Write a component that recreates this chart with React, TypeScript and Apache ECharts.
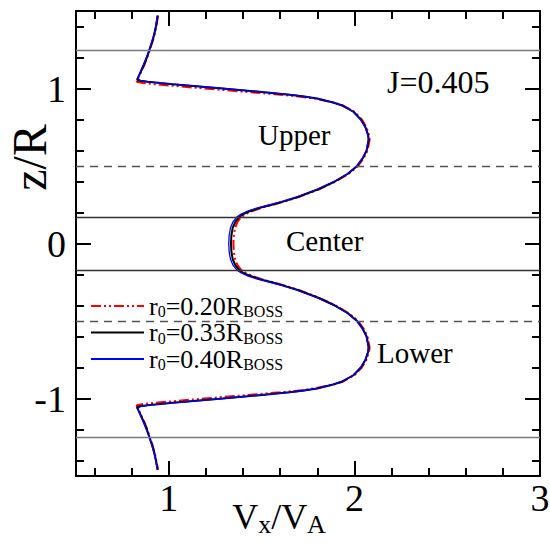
import React, { useEffect, useRef } from "react";
import * as echarts from "echarts";

const FONT = '"Liberation Serif", "Times New Roman", Times, serif';

const seriesNames = ["r0=0.20RBOSS", "r0=0.33RBOSS", "r0=0.40RBOSS"];
const legendParts = ["0.20", "0.33", "0.40"];

const zVals = [
  1.47, 1.4, 1.35, 1.3, 1.25, 1.2, 1.15, 1.1, 1.07, 1.058, 1.05, 1.043, 1.035, 1.028, 1.02, 1.0, 0.98, 0.96, 0.95, 0.935,
  0.91, 0.89, 0.85, 0.8, 0.75, 0.7, 0.67, 0.6, 0.55, 0.5, 0.45, 0.4, 0.35, 0.3, 0.27, 0.25, 0.23, 0.21, 0.19, 0.17,
  0.14, 0.1, 0.05, 0.0,
  -0.05, -0.1, -0.14, -0.17, -0.19, -0.21, -0.23, -0.25, -0.27, -0.3, -0.35, -0.4, -0.45, -0.5, -0.55, -0.6, -0.67,
  -0.7, -0.75, -0.8, -0.85, -0.89, -0.91, -0.935, -0.95, -0.96, -0.98, -1.0, -1.02, -1.028, -1.035, -1.043, -1.05,
  -1.058, -1.07, -1.1, -1.15, -1.2, -1.25, -1.3, -1.35, -1.4, -1.46,
];

const vxRed = [
  0.942, 0.933, 0.924, 0.912, 0.898, 0.884, 0.867, 0.848, 0.836, 0.831, 0.827, 0.828, 0.86, 0.924, 1.0, 1.19, 1.4, 1.6, 1.69, 1.785,
  1.888, 1.94, 2.0, 2.04, 2.065, 2.079, 2.082, 2.071, 2.05, 2.02, 1.97, 1.9, 1.81, 1.7, 1.622, 1.562, 1.5, 1.452, 1.415, 1.39,
  1.37, 1.357, 1.35, 1.348,
  1.35, 1.357, 1.37, 1.39, 1.415, 1.452, 1.5, 1.562, 1.622, 1.7, 1.81, 1.9, 1.97, 2.02, 2.05, 2.071, 2.082,
  2.079, 2.065, 2.04, 2.0, 1.94, 1.888, 1.785, 1.69, 1.6, 1.4, 1.19, 1.0, 0.924, 0.86, 0.828, 0.827,
  0.831, 0.836, 0.848, 0.867, 0.884, 0.898, 0.912, 0.924, 0.933, 0.942,
];

const vxBlack = [
  0.94, 0.931, 0.922, 0.91, 0.896, 0.882, 0.865, 0.846, 0.834, 0.829, 0.842, 0.885, 0.955, 1.02, 1.1, 1.29, 1.475, 1.65, 1.72, 1.8,
  1.885, 1.935, 1.995, 2.035, 2.06, 2.074, 2.077, 2.066, 2.045, 2.015, 1.965, 1.895, 1.805, 1.695, 1.615, 1.555, 1.49, 1.44, 1.402, 1.378,
  1.358, 1.344, 1.337, 1.335,
  1.337, 1.344, 1.358, 1.378, 1.402, 1.44, 1.49, 1.555, 1.615, 1.695, 1.805, 1.895, 1.965, 2.015, 2.045, 2.066, 2.077,
  2.074, 2.06, 2.035, 1.995, 1.935, 1.885, 1.8, 1.72, 1.65, 1.475, 1.29, 1.1, 1.02, 0.955, 0.885, 0.842,
  0.829, 0.834, 0.846, 0.865, 0.882, 0.896, 0.91, 0.922, 0.931, 0.94,
];

const vxBlue = [
  0.938, 0.929, 0.92, 0.908, 0.894, 0.879, 0.862, 0.844, 0.834, 0.838, 0.856, 0.895, 0.962, 1.028, 1.105, 1.295, 1.48, 1.655, 1.722, 1.8,
  1.884, 1.933, 1.993, 2.033, 2.058, 2.072, 2.075, 2.064, 2.043, 2.012, 1.962, 1.89, 1.8, 1.688, 1.606, 1.545, 1.478, 1.428, 1.39, 1.366,
  1.346, 1.332, 1.325, 1.323,
  1.325, 1.332, 1.346, 1.366, 1.39, 1.428, 1.478, 1.545, 1.606, 1.688, 1.8, 1.89, 1.962, 2.012, 2.043, 2.064, 2.075,
  2.072, 2.058, 2.033, 1.993, 1.933, 1.884, 1.8, 1.722, 1.655, 1.48, 1.295, 1.105, 1.028, 0.962, 0.895, 0.856,
  0.838, 0.834, 0.844, 0.862, 0.879, 0.894, 0.908, 0.92, 0.929, 0.938,
];

const regionLinesSolidOuter = [1.25, -1.25];
const regionLinesSolidInner = [0.175, -0.175];
const regionLinesDashed = [0.5, -0.5];

const regionLabels = [
  { text: "Upper", x: 258, y: 135 },
  { text: "Center", x: 286, y: 241 },
  { text: "Lower", x: 377, y: 353 },
];
const paramLabel = { text: "J=0.405", x: 387, y: 82 };

function toPairs(vx: number[]) {
  return zVals.map((z, i) => [vx[i], z]);
}

export default function App() {
  const ref = useRef<HTMLDivElement>(null);
  useEffect(() => {
    document.body.style.margin = "0";
    if (!ref.current) return;
    const chart = echarts.init(ref.current, undefined, { renderer: "svg" });

    const axisCommon = {
      type: "value" as const,
      splitNumber: 3,
      axisLine: { show: true, onZero: false, lineStyle: { color: "#000", width: 2 } },
      axisTick: { show: true, inside: true, length: 15, lineStyle: { color: "#000", width: 2 } },
      minorTick: { show: true, splitNumber: 5, length: 8, lineStyle: { color: "#000", width: 2 } },
      splitLine: { show: false },
      minorSplitLine: { show: false },
    };

    const intLabel = (v: number) => (Math.abs(v - Math.round(v)) < 1e-9 ? String(Math.round(v)) : "");

    const markData: any[] = [];
    regionLinesSolidOuter.forEach((v) =>
      markData.push({ yAxis: v, lineStyle: { color: "#7a7a7a", width: 1.3, type: "solid" } })
    );
    regionLinesSolidInner.forEach((v) =>
      markData.push({ yAxis: v, lineStyle: { color: "#333", width: 1.3, type: "solid" } })
    );
    regionLinesDashed.forEach((v) =>
      markData.push({ yAxis: v, lineStyle: { color: "#555", width: 1.3, type: [8, 6] } })
    );

    const option: any = {
      animation: false,
      backgroundColor: "#fff",
      grid: { left: 76, right: 10, top: 11, bottom: 72, containLabel: false, outerBoundsMode: "none" },
      xAxis: [
        {
          ...axisCommon,
          min: 0.5,
          max: 3,
          position: "bottom",
          axisLabel: {
            fontSize: 38,
            fontFamily: FONT,
            color: "#000",
            margin: 3,
            formatter: intLabel,
          },
          name: "{m|V}{s|x}{m|/V}{s|A}",
          nameLocation: "middle",
          nameGap: 21,
          nameMoveOverlap: false,
          nameTextStyle: {
            fontFamily: FONT,
            color: "#000",
            padding: [0, 58, 0, 0],
            rich: {
              m: { fontSize: 36, fontFamily: FONT, color: "#000", lineHeight: 40 },
              s: { fontSize: 26, fontFamily: FONT, color: "#000", lineHeight: 8, verticalAlign: "bottom" },
            },
          },
        },
        {
          ...axisCommon,
          min: 0.5,
          max: 3,
          position: "top",
          axisLabel: { show: false },
        },
      ],
      yAxis: [
        {
          ...axisCommon,
          min: -1.5,
          max: 1.5,
          position: "left",
          axisLabel: {
            fontSize: 38,
            fontFamily: FONT,
            color: "#000",
            margin: 10,
            formatter: intLabel,
          },
          name: "z/R",
          nameLocation: "middle",
          nameGap: 23,
          nameMoveOverlap: false,
          nameTextStyle: {
            fontSize: 48,
            fontFamily: FONT,
            color: "#000",
            padding: [0, 0, 0, 172],
          },
        },
        {
          ...axisCommon,
          min: -1.5,
          max: 1.5,
          position: "right",
          axisLabel: { show: false },
        },
      ],
      legend: {
        show: true,
        orient: "vertical",
        left: 90,
        top: 293,
        padding: 0,
        itemGap: 0,
        itemWidth: 53,
        itemHeight: 14,
        data: seriesNames,
        itemStyle: { opacity: 0, borderWidth: 0 },
        formatter: (name: string) => {
          const idx = seriesNames.indexOf(name);
          return `{m|r}{s|0}{m|=${legendParts[idx]}R}{s|BOSS}`;
        },
        textStyle: {
          fontFamily: FONT,
          color: "#000",
          rich: {
            m: { fontSize: 26, fontFamily: FONT, color: "#000", lineHeight: 27 },
            s: { fontSize: 16, fontFamily: FONT, color: "#000", lineHeight: 13, verticalAlign: "bottom" },
          },
        },
      },
      series: [
        {
          name: "refs",
          type: "line",
          data: [],
          silent: true,
          markLine: {
            silent: true,
            symbol: ["none", "none"],
            label: { show: false },
            data: markData,
          },
          z: 1,
        },
        {
          name: seriesNames[0],
          type: "line",
          data: toPairs(vxRed),
          symbol: "none",
          lineStyle: { color: "#ff0000", width: 2, type: [10, 3, 2, 3, 2, 3] },
          itemStyle: { color: "#ff0000" },
          z: 2,
        },
        {
          name: seriesNames[1],
          type: "line",
          data: toPairs(vxBlack),
          symbol: "none",
          lineStyle: { color: "#000", width: 2 },
          itemStyle: { color: "#000" },
          z: 3,
        },
        {
          name: seriesNames[2],
          type: "line",
          data: toPairs(vxBlue),
          symbol: "none",
          lineStyle: { color: "#0000ff", width: 1.3 },
          itemStyle: { color: "#0000ff" },
          z: 4,
        },
      ],
      graphic: [
        ...regionLabels.map((l) => ({
          type: "text",
          x: l.x,
          y: l.y,
          silent: true,
          style: { text: l.text, fontSize: 29, fontFamily: FONT, fill: "#000", align: "left", verticalAlign: "middle" },
        })),
        {
          type: "text",
          x: paramLabel.x,
          y: paramLabel.y,
          silent: true,
          style: { text: paramLabel.text, fontSize: 32, fontFamily: FONT, fill: "#000", align: "left", verticalAlign: "middle" },
        },
      ],
    };
    chart.setOption(option);
    return () => chart.dispose();
  }, []);
  return <div ref={ref} style={{ width: 550, height: 548 }} />;
}
